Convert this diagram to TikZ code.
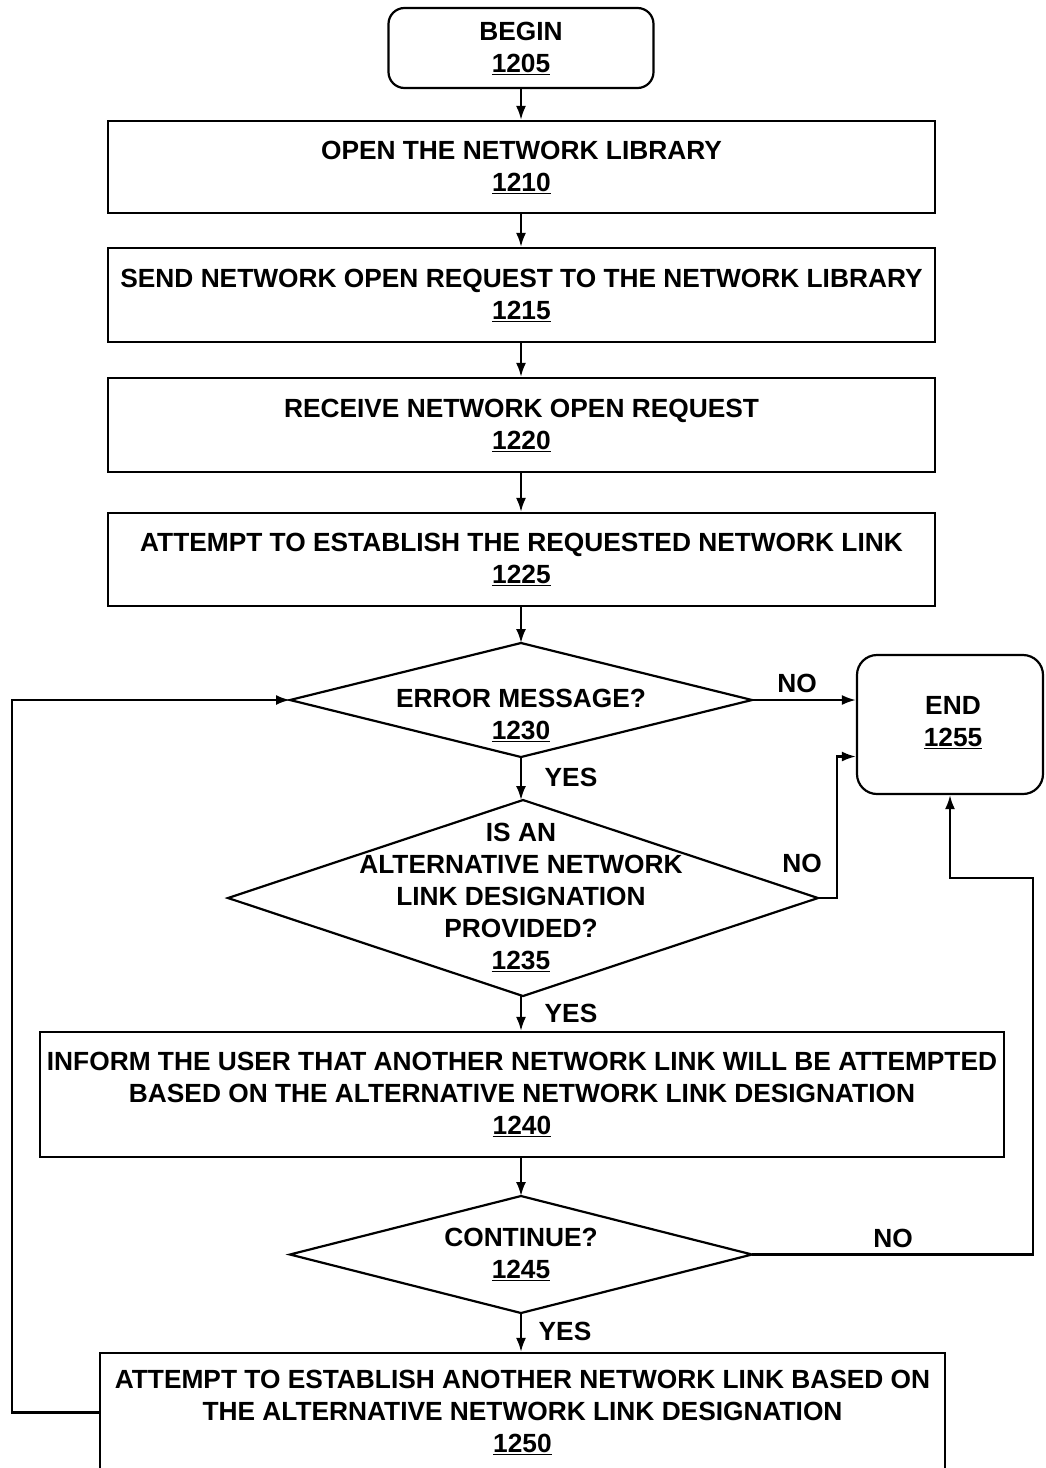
\documentclass[tikz,border=0pt]{standalone}
\usepackage{fontspec}
\setmainfont{Liberation Sans}
\usetikzlibrary{shapes.geometric,arrows.meta,calc}
\newcommand\idn[1]{\underline{#1}}
\begin{document}
\begin{tikzpicture}[x=1pt,y=-1pt,
  txt/.style={font=\fontsize{26.3}{32}\selectfont\bfseries, align=center, inner sep=0pt},
  stepbox/.style={draw, line width=2.2pt, align=center, inner sep=0pt, font=\fontsize{26.3}{32}\selectfont\bfseries},
  termbox/.style={stepbox, rounded corners=16pt},
  decision/.style={draw, line width=2.2pt, shape=diamond, inner sep=0pt, outer sep=0pt},
  arr/.style={line width=2.2pt, -{Latex[length=14pt,width=10pt]}},
  lbl/.style={font=\fontsize{26.3}{32}\selectfont\bfseries, inner sep=0pt}]
\useasboundingbox (0,0) rectangle (1045,1468);
\clip (0,0) rectangle (1045,1468);
\node[termbox, minimum width=265pt, minimum height=80pt] (b1205) at (521,48) {BEGIN\\\idn{1205}};
\node[stepbox, minimum width=827pt, minimum height=92pt] (b1210) at (521.5,167) {OPEN THE NETWORK LIBRARY\\\idn{1210}};
\node[stepbox, minimum width=827pt, minimum height=94pt] (b1215) at (521.5,295) {SEND NETWORK OPEN REQUEST TO THE NETWORK LIBRARY\\\idn{1215}};
\node[stepbox, minimum width=827pt, minimum height=94pt] (b1220) at (521.5,425) {RECEIVE NETWORK OPEN REQUEST\\\idn{1220}};
\node[stepbox, minimum width=827pt, minimum height=93pt] (b1225) at (521.5,559.5) {ATTEMPT TO ESTABLISH THE REQUESTED NETWORK LINK\\\idn{1225}};
\node[decision, minimum width=462pt, minimum height=114pt] (d1230) at (521,700) {};
\node[txt] (t1230) at (521,715) {ERROR MESSAGE?\\\idn{1230}};
\node[termbox, rounded corners=20pt, minimum width=186pt, minimum height=139pt] (e1255) at (950,724.5) {};
\node[txt] (t1255) at (953,723) {END\\\idn{1255}};
\node[decision, minimum width=590pt, minimum height=196pt] (d1235) at (523,898) {};
\node[txt] (t1235) at (521,897) {IS AN\\ALTERNATIVE NETWORK\\LINK DESIGNATION\\PROVIDED?\\\idn{1235}};
\node[stepbox, minimum width=964pt, minimum height=125pt] (b1240) at (522,1094.5) {INFORM THE USER THAT ANOTHER NETWORK LINK WILL BE ATTEMPTED\\BASED ON THE ALTERNATIVE NETWORK LINK DESIGNATION\\\idn{1240}};
\node[decision, minimum width=462pt, minimum height=117pt] (d1245) at (521,1254.5) {};
\node[txt] (t1245) at (521,1254) {CONTINUE?\\\idn{1245}};
\node[stepbox, minimum width=845pt, minimum height=119pt] (b1250) at (522.5,1412.5) {ATTEMPT TO ESTABLISH ANOTHER NETWORK LINK BASED ON\\THE ALTERNATIVE NETWORK LINK DESIGNATION\\\idn{1250}};
% connectors
\draw[arr] (b1205) -- (b1205 |- b1210.north);
\draw[arr] (b1210.south -| b1205) -- (b1205 |- b1215.north);
\draw[arr] (b1215.south -| b1205) -- (b1205 |- b1220.north);
\draw[arr] (b1220.south -| b1205) -- (b1205 |- b1225.north);
\draw[arr] (b1225.south -| d1230.north) -- (d1230.north);
\draw[arr] (d1230.east) -- (d1230.east -| e1255.west);
\draw[arr] (d1230.south) -- (d1235.north -| d1230.south);
\draw[arr] (d1235.east) -| (837,800) |- ($(e1255.west)+(0,32)$);
\draw[arr] (d1235.south -| d1230.south) -- (d1230.south |- b1240.north);
\draw[arr] (b1240.south -| d1245.north) -- (d1245.north);
\draw[arr] (d1245.east) -| (1033,878) -| (e1255.south);
\draw[arr] (d1245.south) -- (d1245.south |- b1250.north);
\draw[arr] (b1250.west) -| (12,800) |- (d1230.west);
% labels
\node[lbl] (n1) at (797,683) {NO};
\node[lbl] (y1) at (571,777) {YES};
\node[lbl] (n2) at (802,863) {NO};
\node[lbl] (y2) at (571,1013) {YES};
\node[lbl] (n3) at (893,1238) {NO};
\node[lbl] (y3) at (565,1331) {YES};
\end{tikzpicture}
\end{document}
